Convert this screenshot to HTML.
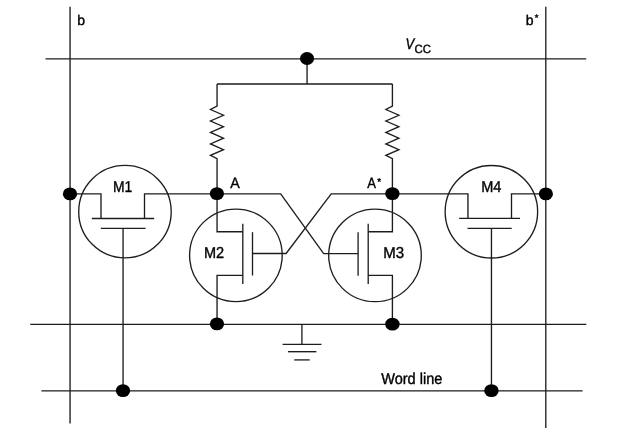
<!DOCTYPE html>
<html><head><meta charset="utf-8"><style>
html,body{margin:0;padding:0;background:#fff;width:640px;height:434px;overflow:hidden}
svg{display:block}
text{font-family:"Liberation Sans",sans-serif;fill:#000}
</style></head><body>
<svg width="640" height="434" viewBox="0 0 640 434">
<defs><filter id="soft" x="-5%" y="-5%" width="110%" height="110%"><feGaussianBlur stdDeviation="0.4"/></filter></defs>
<g filter="url(#soft)">
<g fill="none" stroke="#1e1e1e" stroke-width="1.35" stroke-linejoin="miter">
<!-- bit lines -->
<path d="M70.05,6.8V423.4"/>
<path d="M545.8,6.8V428"/>
<!-- VCC -->
<path d="M45.5,58.8H586.2"/>
<path d="M307.05,58.8V84"/>
<path d="M217.05,84H392.4"/>
<!-- left resistor + M2 drain -->
<path d="M217.05,84V106L210.5,109.5L223.5,115.25L210.5,121L223.5,126.7L210.5,132.4L223.5,138.2L210.5,143.9L223.5,149.7L210.5,155.4L217.05,158.6V231.7H242.8"/>
<!-- right resistor + M3 drain -->
<path d="M392.4,84V106L385.9,109.5L398.9,115.25L385.9,121L398.9,126.7L385.9,132.4L398.9,138.2L385.9,143.9L398.9,149.7L385.9,155.4L392.4,158.6V231.7H368.2"/>
<!-- node row -->
<path d="M70.05,193.85H101V218.45"/>
<path d="M144.5,218.45V193.85H280.67L323.67,253.55H358.1"/>
<path d="M252.5,253.5H286.1L331.2,193.85H467.95V218.3"/>
<path d="M511.5,218.3V193.85H545.8"/>
<!-- M1 -->
<circle cx="124.96" cy="211.64" r="46.24"/>
<path d="M91.84,218.45H154.2"/>
<path d="M100.8,228.4H145.6"/>
<path d="M123.05,228.4V390.8"/>
<!-- M4 -->
<circle cx="491.4" cy="211.7" r="46.25"/>
<path d="M459.1,218.3H520"/>
<path d="M467.5,228.3H511.7"/>
<path d="M491.44,228.3V390.8"/>
<!-- M2 -->
<circle cx="235.9" cy="255.35" r="46.3"/>
<path d="M242.8,223.65V284"/>
<path d="M252.5,232.2V275.5"/>
<path d="M242.8,275.3H217.05V324.3"/>
<!-- M3 -->
<circle cx="375" cy="255.4" r="46.3"/>
<path d="M368.2,223.65V284"/>
<path d="M358.1,232.2V275.7"/>
<path d="M368.2,275.3H392.4V324.3"/>
<!-- ground line -->
<path d="M30.2,324.3H586.3"/>
<path d="M301.9,324.3V344.37"/>
<path d="M282.6,344.37H321.45"/>
<path d="M287.95,351.7H316.4"/>
<path d="M294.25,359.9H309.7"/>
<!-- word line -->
<path d="M41.4,390.8H582.6"/>
</g>
<g fill="#000">
<ellipse cx="307.05" cy="58.55" rx="7.1" ry="6.45"/>
<ellipse cx="69.98" cy="193.9" rx="7.14" ry="6.45"/>
<ellipse cx="216.9" cy="193.6" rx="7.1" ry="6.4"/>
<ellipse cx="392.4" cy="193.6" rx="7.2" ry="6.45"/>
<ellipse cx="545.87" cy="193.9" rx="7.1" ry="6.45"/>
<ellipse cx="216.98" cy="323.9" rx="7.14" ry="6.45"/>
<ellipse cx="392.4" cy="324.15" rx="7.2" ry="6.45"/>
<ellipse cx="122.98" cy="390.65" rx="7.14" ry="6.45"/>
<ellipse cx="491.44" cy="390.65" rx="7.2" ry="6.45"/>
</g>
<g font-size="15.8" stroke="#000" stroke-width="0.4" style="text-rendering:geometricPrecision" opacity="0.999">
<text transform="translate(77.15,25.05)" font-size="14">b</text>
<text transform="translate(525.8,25.05)" font-size="14">b</text>
<text transform="translate(534.7,21.25)" font-size="9.5">*</text>
<text transform="translate(113,191.8) scale(.88,1)">M1</text>
<text transform="translate(481.2,191.8) scale(.92,1)">M4</text>
<text transform="translate(203.9,258) scale(.92,1)">M2</text>
<text transform="translate(383.2,258) scale(.95,1)">M3</text>
<text transform="translate(230.3,187.55) scale(.95,1)" font-size="15">A</text>
<text transform="translate(367.2,188.05) scale(.88,1)" font-size="14.8">A</text>
<text transform="translate(377.3,184.8)" font-size="10">*</text>
<text transform="translate(381.2,383.7) scale(.92,1)">Word line</text>
<text transform="translate(405.6,48.85) scale(.86,1)" font-size="15.2" font-style="italic">V</text>
<text transform="translate(414.6,52.9) scale(.96,1)" font-size="11.9">CC</text>
</g>
</g>
</svg>
</body></html>
